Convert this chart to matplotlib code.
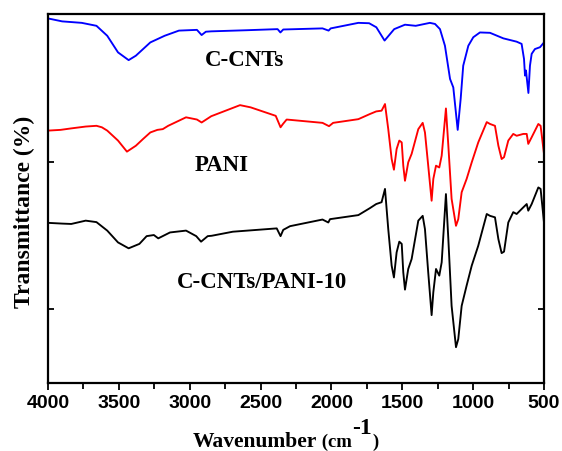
import matplotlib
matplotlib.use('Agg')
import matplotlib.pyplot as plt
import numpy as np

# FTIR spectra (arbitrary offset transmittance units)
wn_ccnt = [4000, 3900, 3762, 3658, 3582, 3506, 3431, 3380, 3278, 3177, 3076, 2949,
           2916, 2886, 2848, 2600, 2380, 2360, 2340, 2063, 2020, 2005, 1810, 1734,
           1683, 1625, 1557, 1481, 1405, 1305, 1269, 1234, 1199, 1163, 1140, 1109,
           1088, 1070, 1034, 999, 952, 881, 787, 693, 658, 641, 634, 627, 622, 610,
           599, 587, 564, 528, 500]
t_ccnt = [98.8, 98.0, 97.6, 96.8, 94.1, 89.6, 87.5, 88.7, 92.3, 94.1, 95.5, 95.7,
          94.3, 95.2, 95.3, 95.6, 95.9, 95.0, 95.8, 96.1, 95.5, 96.1, 97.6, 97.5,
          96.4, 92.8, 95.9, 97.1, 96.8, 97.6, 97.3, 95.9, 91.4, 82.4, 80.1, 68.6,
          77.0, 86.0, 91.4, 93.7, 95.0, 94.9, 93.4, 92.5, 91.9, 87.8, 83.3, 84.7,
          82.8, 78.6, 86.0, 89.2, 90.5, 91.0, 92.3]

wn_pani = [4000, 3911, 3836, 3734, 3658, 3620, 3582, 3506, 3443, 3380, 3330, 3278,
           3228, 3190, 3152, 3026, 2949, 2916, 2848, 2645, 2570, 2393, 2359, 2342,
           2316, 2063, 2017, 1988, 1810, 1728, 1684, 1646, 1622, 1599, 1575, 1559,
           1540, 1521, 1504, 1493, 1481, 1458, 1434, 1387, 1356, 1340, 1317, 1293,
           1281, 1262, 1239, 1222, 1192, 1175, 1152, 1121, 1105, 1081, 1046, 1010,
           964, 904, 881, 846, 822, 799, 782, 752, 717, 693, 646, 622, 611, 587,
           540, 524, 500]
t_pani = [68.4, 68.6, 69.0, 69.5, 69.7, 69.3, 68.4, 65.7, 62.7, 64.3, 66.1, 67.9,
          68.6, 68.8, 69.7, 72.0, 71.4, 70.6, 72.3, 75.3, 74.7, 72.4, 69.3, 70.2,
          71.4, 70.5, 69.6, 70.5, 71.5, 72.9, 73.6, 73.8, 75.6, 68.8, 60.7, 57.8,
          63.4, 65.7, 65.2, 58.9, 54.8, 59.8, 62.1, 68.8, 70.5, 67.9, 58.9, 49.4,
          55.3, 58.9, 58.4, 61.6, 74.4, 64.3, 49.9, 42.6, 44.4, 51.7, 55.3, 59.8,
          65.2, 70.7, 70.2, 69.7, 64.3, 60.7, 61.2, 65.7, 67.5, 67.0, 67.5, 67.5,
          64.8, 66.6, 70.2, 69.7, 62.1]

wn_comp = [4000, 3900, 3836, 3734, 3658, 3582, 3506, 3431, 3355, 3304, 3253, 3222,
           3139, 3026, 2954, 2920, 2873, 2845, 2696, 2386, 2359, 2340, 2292, 2063,
           2022, 2010, 1810, 1728, 1684, 1646, 1622, 1599, 1575, 1559, 1540, 1521,
           1504, 1493, 1481, 1458, 1434, 1387, 1356, 1340, 1317, 1293, 1281, 1262,
           1239, 1222, 1192, 1175, 1152, 1121, 1105, 1081, 1046, 1010, 964, 904,
           881, 846, 822, 799, 782, 752, 717, 693, 646, 622, 611, 587, 540, 524, 500]
t_comp = [43.4, 43.2, 43.1, 44.0, 43.6, 41.3, 38.1, 36.5, 37.7, 39.8, 40.1, 39.2,
          40.8, 41.3, 39.8, 38.3, 39.8, 39.9, 41.0, 41.9, 39.8, 41.5, 42.5, 44.3,
          43.5, 44.4, 45.5, 47.4, 48.5, 49.0, 52.6, 41.7, 31.8, 28.6, 35.4, 38.3,
          37.7, 30.0, 25.3, 30.9, 33.6, 44.0, 45.3, 41.7, 30.0, 18.4, 24.6, 30.9,
          29.1, 32.7, 51.2, 39.0, 20.9, 9.7, 11.9, 20.9, 26.4, 31.8, 37.2, 45.8,
          45.3, 44.9, 39.0, 35.2, 35.6, 43.5, 46.3, 45.8, 47.6, 48.5, 46.7, 48.5,
          53.0, 52.6, 43.5]

names = ['C-CNTs', 'PANI', 'C-CNTs/PANI-10']
name_x = [2610, 2772, 2493]
name_y = [87.8, 59.1, 27.4]
xticks = [4000, 3500, 3000, 2500, 2000, 1500, 1000, 500]

fig = plt.figure(figsize=(5.62, 4.52), dpi=100)
ax = fig.add_axes([48/562, 68/452, 496/562, 369/452])

ax.plot(wn_ccnt, t_ccnt, color='#0000ff', lw=1.35)
ax.plot(wn_pani, t_pani, color='#ff0000', lw=1.35)
ax.plot(wn_comp, t_comp, color='black', lw=1.35)

ax.set_xlim(4000, 500)
ax.set_ylim(0, 100)

serif = 'Liberation Serif'
for name, x, y in zip(names, name_x, name_y):
    ax.text(x, y, name, ha='center', va='center', family=serif, fontweight='bold', fontsize=16.5)

ax.set_xticks(xticks)
ax.set_xticks(np.arange(3750, 500, -500), minor=True)
ax.set_xticklabels([str(t) for t in xticks], family='Liberation Sans', fontweight='bold', fontsize=14)
ax.set_yticks([20, 60, 100])
ax.set_yticklabels([])

ax.tick_params(axis='x', which='both', direction='out', width=1.3, top=False)
ax.tick_params(axis='x', which='major', length=5, pad=3)
ax.tick_params(axis='x', which='minor', length=4)
ax.tick_params(axis='y', direction='in', length=4, width=1.3, right=True)

for s in ax.spines.values():
    s.set_linewidth(1.6)

fig.text(24/562, (452 - 212)/452, 'Transmittance (%)', rotation=90, ha='center', va='center',
         family=serif, fontweight='bold', fontsize=17)

# x label assembled from pieces to get the small "(cm" and raised "-1"
base = (452 - 447) / 452
r = fig.canvas.get_renderer()
pieces = [('Wavenumber', 15.5, 0), (' (cm', 13.5, 0), ('-1', 17, 13), (')', 13.5, 0)]
x0 = 193
for s, size, dy in pieces:
    t = fig.text(x0/562, base + dy/452, s, ha='left', va='baseline',
                 family=serif, fontweight='bold', fontsize=size)
    x0 = t.get_window_extent(r).x1

fig.savefig('out.png', dpi=100)
